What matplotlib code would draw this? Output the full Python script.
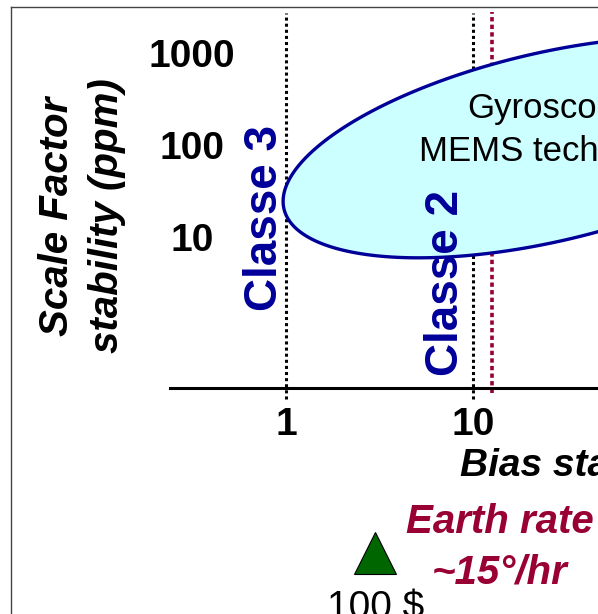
import numpy as np
import matplotlib
matplotlib.use("Agg")
import matplotlib.pyplot as plt
from matplotlib.lines import Line2D

plt.rcParams['font.family'] = ['Liberation Sans', 'DejaVu Sans']

# ------------------ values ------------------
x_ticks = [1, 10, 100, 1000]
x_tick_labels = ['1', '10', '100', '1000']
y_ticks = [10, 100, 1000]
y_tick_labels = ['10', '100', '1000']

class_limits = [1, 10]              # bias stability class borders (deg/hr)
class_names = ['Classe 3', 'Classe 2']
earth_rate_line = 12.7              # red dotted line position

# MEMS region, an ellipse in log-log space
mems_center = (25.1, 94.4)          # (deg/hr, ppm)
mems_half_width_dec = 1.415         # decades along x
mems_half_height_dec = 1.048        # decades along y
mems_tilt = 0.415                   # log-y rise per log-x decade

cost_marker_x = [3]
cost_labels = ['100 $']

# ------------------ styles ------------------
NAVY = '#000099'
WINE = '#990033'
CYAN = '#CCFFFF'
GREEN = '#006600'
FS = 28

fig = plt.figure(figsize=(5.98, 6.14), dpi=100)
ax = fig.add_axes([170 / 598, (614 - 388) / 614, 428 / 598, 380 / 614])
ax.set_xscale('log')
ax.set_yscale('log')
ax.patch.set_visible(False)

for side in ['left', 'top', 'right']:
    ax.spines[side].set_visible(False)
ax.spines['bottom'].set_linewidth(2.2)
ax.minorticks_off()

ax.set_xticks(x_ticks)
ax.set_xticklabels(x_tick_labels, fontsize=FS, fontweight='bold')
ax.set_yticks(y_ticks)
ax.set_yticklabels(y_tick_labels, fontsize=FS, fontweight='bold', ha='center')
ax.tick_params(axis='x', length=0, pad=14)
ax.tick_params(axis='y', length=0, pad=-15.8)
# limits after the ticks, set_ticks would widen them
ax.set_xlim(0.2398, 46.6)
ax.set_ylim(0.2284, 3083)

# class borders and earth rate
xtr = ax.get_xaxis_transform()
ax.vlines(class_limits, -0.028, 0.987, transform=xtr, colors='black',
          linestyles=(0, (1, 1)), lw=2.2, clip_on=False, zorder=1)
ax.vlines([earth_rate_line], -0.013, 0.989, transform=xtr, colors=WINE,
          linestyles=(0, (1.2, 0.9)), lw=2.6, clip_on=False, zorder=1)

# MEMS ellipse
t = np.linspace(0, 2 * np.pi, 400)
lx = np.log10(mems_center[0]) + mems_half_width_dec * np.cos(t)
ly = (np.log10(mems_center[1]) + mems_tilt * mems_half_width_dec * np.cos(t)
      + mems_half_height_dec * np.sin(t))
ax.fill(10 ** lx, 10 ** ly, facecolor=CYAN, edgecolor=NAVY, lw=2.4,
        clip_on=False, zorder=2)
ax.text(29.3, 145, 'Gyroscopes\nMEMS technology', fontsize=25,
        ha='center', va='center', linespacing=1.4, zorder=3)

# class names
ax.text(0.772, 16.1, class_names[0], rotation=90, fontsize=33, fontweight='bold',
        color=NAVY, ha='center', va='center', zorder=4)
ax.text(7.17, 3.16, class_names[1], rotation=90, fontsize=33, fontweight='bold',
        color=NAVY, ha='center', va='center', zorder=4)

# axis titles
fig.text(82 / 598, 1 - 216 / 614, 'Scale Factor\nstability (ppm)', rotation=90,
         fontsize=29, fontweight='bold', fontstyle='italic', ha='center',
         va='center', linespacing=1.4)
ax.text(0.678, -0.2316, 'Bias stability (°/hr)', transform=ax.transAxes,
        fontsize=FS, fontweight='bold', fontstyle='italic', ha='left',
        va='baseline')

# earth rate note
ax.text(0.771, -0.303, 'Earth rate\n~15°/hr', transform=ax.transAxes,
        fontsize=29, fontweight='bold', fontstyle='italic', color=WINE,
        ha='center', va='top', linespacing=1.42)

# cost marker
ax.plot(cost_marker_x, [-0.433], transform=xtr, marker='^', ms=30,
        color=GREEN, mec='black', mew=0.8, ls='none', clip_on=False)
ax.text(cost_marker_x[0], -0.532, cost_labels[0], transform=xtr, fontsize=FS,
        ha='center', va='top', clip_on=False)

# slide frame
fig.add_artist(Line2D([10.5 / 598, 10.5 / 598], [0, 1 - 7 / 614],
                      transform=fig.transFigure, color='#444444', lw=1))
fig.add_artist(Line2D([10.5 / 598, 1], [1 - 7 / 614, 1 - 7 / 614],
                      transform=fig.transFigure, color='#444444', lw=1))

fig.savefig('out.png', dpi=100)
